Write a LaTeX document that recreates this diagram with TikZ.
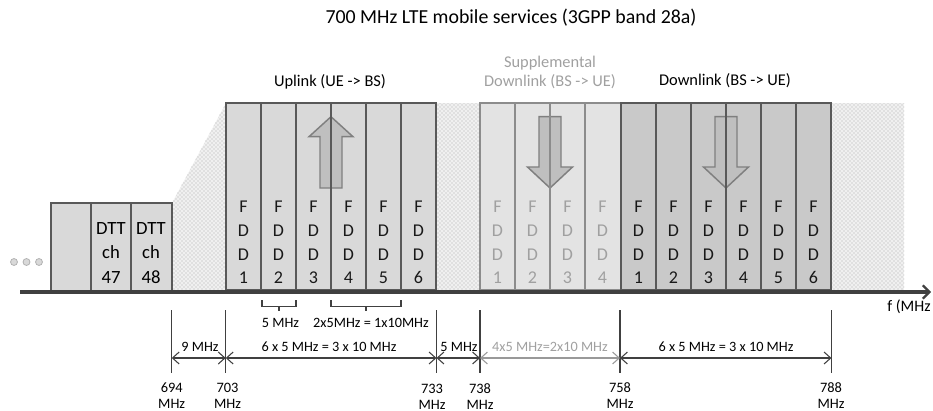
\documentclass[tikz,border=0pt]{standalone}
\usepackage{fontspec}
\setmainfont{Carlito}
\usetikzlibrary{patterns,arrows.meta}
\definecolor{ulfill}{HTML}{D9D9D9}
\definecolor{sdlfill}{HTML}{E3E3E3}
\definecolor{dlfill}{HTML}{C9C9C9}
\definecolor{bordercol}{HTML}{595959}
\definecolor{sdlborder}{HTML}{8C8C8C}
\definecolor{sdltext}{HTML}{A0A0A0}
\definecolor{arrowfill}{HTML}{BFBFBF}
\definecolor{arrowline}{HTML}{7F7F7F}
\definecolor{axiscol}{HTML}{404040}
\definecolor{stipfill}{HTML}{F0F0F0}
\begin{document}
\begin{tikzpicture}[x=0.75pt,y=-0.75pt,
  stipple/.style={fill=stipfill, postaction={pattern=crosshatch dots, pattern color=black!32}},
  blockborder/.style={draw=bordercol, line width=1.8pt},
  divline/.style={draw=bordercol, line width=1pt},
  sdldiv/.style={draw=sdlborder, line width=1pt},
  fddtext/.style={align=center, font=\fontsize{13.5}{17.8}\selectfont, text=black!90, inner sep=0pt},
  sdlfdd/.style={fddtext, text=sdltext},
  bandlabel/.style={font=\fontsize{12.3}{14}\selectfont, inner sep=0pt},
  blockarrow/.style={fill=arrowfill, draw=arrowline, line width=1.1pt, line join=miter},
  dimtick/.style={draw=axiscol, line width=0.8pt},
  dimarrow/.style={draw=axiscol, line width=0.8pt, {Straight Barb[length=5pt,width=9pt]}-{Straight Barb[length=5pt,width=9pt]}},
  dimlabel/.style={font=\fontsize{10.7}{12}\selectfont, inner sep=0pt},
  freqlabel/.style={align=center, font=\fontsize{10.8}{12}\selectfont, inner sep=0pt},
  bracecol/.style={draw=axiscol, line width=0.8pt},
  dotmark/.style={circle, fill=black!15, draw=black!30, line width=0.6pt, minimum size=5.2pt, inner sep=0pt}
]
\useasboundingbox (0,0) rectangle (933,411);

% title
\node[font=\fontsize{14.9}{17}\selectfont, inner sep=0pt] (title) at (511,18) {700 MHz LTE mobile services (3GPP band 28a)};

% stippled guard regions
\path[stipple] (172,290) -- (172,203) -- (226,103) -- (226,290) -- cycle;
\path[stipple] (436,103) rectangle (480,290);
\path[stipple] (831,103) rectangle (904,290);

% DTT block
\path[fill=ulfill] (51,203) rectangle (172,291);
\draw[blockborder] (91,203) -- (91,291) (131,203) -- (131,291);
\draw[blockborder] (51,203) rectangle (172,291);
\node[align=center, font=\fontsize{14}{18.5}\selectfont, inner sep=0pt] (dtt47) at (111,253) {DTT\\ch\\47};
\node[align=center, font=\fontsize{14}{18.5}\selectfont, inner sep=0pt] (dtt48) at (151,253) {DTT\\ch\\48};
\node[dotmark] (dot1) at (14,262) {};
\node[dotmark] (dot2) at (26.5,262) {};
\node[dotmark] (dot3) at (39,262) {};

% Uplink block
\path[fill=ulfill] (226,103) rectangle (436,290);
\draw[blockarrow] (320,188) -- (320,136.7) -- (309,136.7) -- (331,116.7) -- (353,136.7) -- (342,136.7) -- (342,188) -- cycle;
\foreach \i in {1,...,5} { \draw[divline] (226+35*\i,103) -- (226+35*\i,290); }
\draw[blockborder] (226,103) rectangle (436,290);
\foreach \i in {1,...,6} { \node[fddtext] (ul\i) at (208.5+35*\i,242.5) {F\\D\\D\\\i}; }
\node[bandlabel] (uplabel) at (330,82) {Uplink (UE -> BS)};

% Supplemental downlink block
\path[fill=sdlfill] (480,103) rectangle (621,290);
\draw[blockarrow] (539,116.7) -- (561,116.7) -- (561,167) -- (572.5,167) -- (550,188) -- (527.5,167) -- (539,167) -- cycle;
\foreach \i in {1,...,3} { \draw[sdldiv] (480+35*\i,103) -- (480+35*\i,290); }
\draw[draw=sdlborder, line width=1.8pt] (480,103) rectangle (621,290);
\foreach \i in {1,...,4} { \node[sdlfdd] (sdl\i) at (462.5+35*\i,242.5) {F\\D\\D\\\i}; }
\node[bandlabel, text=sdltext, align=center, font=\fontsize{12.3}{14}\selectfont] (sdllabel) at (550,72.5) {Supplemental\\Downlink (BS -> UE)};

% Downlink block
\path[fill=dlfill] (621,103) rectangle (831,290);
\draw[blockarrow] (715,116.7) -- (737,116.7) -- (737,167) -- (748.5,167) -- (726,188) -- (703.5,167) -- (715,167) -- cycle;
\foreach \i in {1,...,5} { \draw[divline] (621+35*\i,103) -- (621+35*\i,290); }
\draw[blockborder] (621,103) rectangle (831,290);
\foreach \i in {1,...,6} { \node[fddtext] (dl\i) at (603.5+35*\i,242.5) {F\\D\\D\\\i}; }
\node[bandlabel] (dllabel) at (725,81) {Downlink (BS -> UE)};

% frequency axis
\coordinate (axstart) at (20,292);
\coordinate (axend) at (931,292);
\draw[draw=axiscol, line width=2.6pt, -{Straight Barb[length=5pt,width=10pt,line width=1.6pt]}] (axstart) -- (axend);
\node[anchor=west, font=\fontsize{12}{14}\selectfont, inner sep=0pt] (faxis) at (887,307) {f (MHz};

% braces
\draw[bracecol] (262,300) -- (262,306.5) -- (296,306.5) -- (296,300) (279,306.5) -- (279,311);
\node[dimlabel] (b5) at (280.5,323) {5 MHz};
\draw[bracecol] (331,300) -- (331,306.5) -- (401,306.5) -- (401,300) (366,306.5) -- (366,311);
\node[dimlabel] (b10) at (371,323) {2x5MHz = 1x10MHz};

% dimension ticks
\foreach \n/\x in {694/171.7, 703/225.7, 733/436.5, 738/480, 758/620, 788/831.5} {
  \coordinate (t\n) at (\x,310);
  \coordinate (b\n) at (\x,373);
  \coordinate (m\n) at (\x,358);
  \draw[dimtick] (t\n) -- (b\n);
}
\draw[dimarrow] (m694) -- (m703);
\draw[dimarrow] (m703) -- (m733);
\draw[dimarrow] (m733) -- (m738);
\draw[dimarrow, draw=black!40] (m738) -- (m758);
\draw[dimarrow] (m758) -- (m788);
\node[dimlabel] (d9) at (200,347) {9 MHz};
\node[dimlabel] (d30a) at (329,347) {6 x 5 MHz = 3 x 10 MHz};
\node[dimlabel] (d5) at (459,347) {5 MHz};
\node[dimlabel, text=sdltext] (d20) at (550,347) {4x5 MHz=2x10 MHz};
\node[dimlabel] (d30b) at (726,347) {6 x 5 MHz = 3 x 10 MHz};

% frequency values
\node[freqlabel] (l694) at (171.7,396) {694\\MHz};
\node[freqlabel] (l703) at (227.5,396) {703\\MHz};
\node[freqlabel] (l733) at (432,396.5) {733\\MHz};
\node[freqlabel] (l738) at (480,396.5) {738\\MHz};
\node[freqlabel] (l758) at (620,396) {758\\MHz};
\node[freqlabel] (l788) at (831,396) {788\\MHz};
\end{tikzpicture}
\end{document}
